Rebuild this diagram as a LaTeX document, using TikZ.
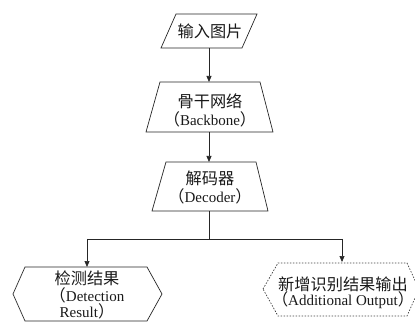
\documentclass[tikz,border=0pt]{standalone}
\usepackage{fontspec}
\setmainfont{Liberation Serif}
\newfontfamily\cjk[Scale=1.08]{Noto Sans CJK SC}
\usetikzlibrary{arrows.meta}
\newcommand{\lpar}{{\cjk （}}
\newcommand{\rpar}{{\cjk ）}}
\begin{document}
\begin{tikzpicture}[x=1pt,y=-1pt,
  shapeline/.style={draw=black!85,line width=0.7pt,line join=miter},
  dashline/.style={draw=black!75,line width=0.7pt,dash pattern=on 1.5pt off 1.5pt},
  conn/.style={draw=black!85,line width=0.7pt},
  arr/.style={conn,-{Triangle[length=6pt,width=5pt]}},
  lbl/.style={align=center,inner sep=0pt,text=black!90,font=\fontsize{15}{18}\selectfont}]
\useasboundingbox (0,0) rectangle (415,323);
% input parallelogram
\draw[shapeline] (176,14) -- (257,14) -- (242,48) -- (161,48) -- cycle;
\node[lbl] (in) at (210,31) {\cjk 输入图片};
\coordinate (inB) at (209,48);
% backbone trapezium
\draw[shapeline] (160,82) -- (260,82) -- (273,132) -- (146,132) -- cycle;
\node[lbl] (bb) at (210,110) {\cjk 骨干网络\\\lpar Backbone\rpar};
\coordinate (bbT) at (209,82);
\coordinate (bbB) at (209,132);
% decoder trapezium
\draw[shapeline] (166,162) -- (256,162) -- (268,211) -- (152,211) -- cycle;
\node[lbl] (dec) at (210,187) {\cjk 解码器\\\lpar Decoder\rpar};
\coordinate (decT) at (209,162);
\coordinate (decB) at (209,211);
% split
\coordinate (split) at (209,239);
\coordinate (splitL) at (87,239);
\coordinate (splitR) at (342,239);
% detection hexagon
\draw[shapeline] (13,294) -- (25,267) -- (147,267) -- (162,294) -- (147,321) -- (25,321) -- cycle;
\node[lbl,font=\fontsize{15}{16.5}\selectfont] (det) at (87,295) {\cjk 检测结果\\\lpar Detection\\Result\rpar};
\coordinate (detT) at (87,267);
% additional hexagon
\draw[dashline] (263,289) -- (278,263) -- (407,263) -- (419,289) -- (407,316) -- (278,316) -- cycle;
\node[lbl,font=\fontsize{15}{15.5}\selectfont] (add) at (343,293) {\cjk 新增识别结果输出\\\lpar Additional Output\rpar};
\coordinate (addT) at (342,262);
% connectors
\draw[arr] (inB) -- (bbT);
\draw[arr] (bbB) -- (decT);
\draw[conn] (decB) -- (split);
\draw[conn] (splitL) -- (splitR);
\draw[arr] (splitL) -- (detT);
\draw[arr] (splitR) -- (addT);
\end{tikzpicture}
\end{document}
